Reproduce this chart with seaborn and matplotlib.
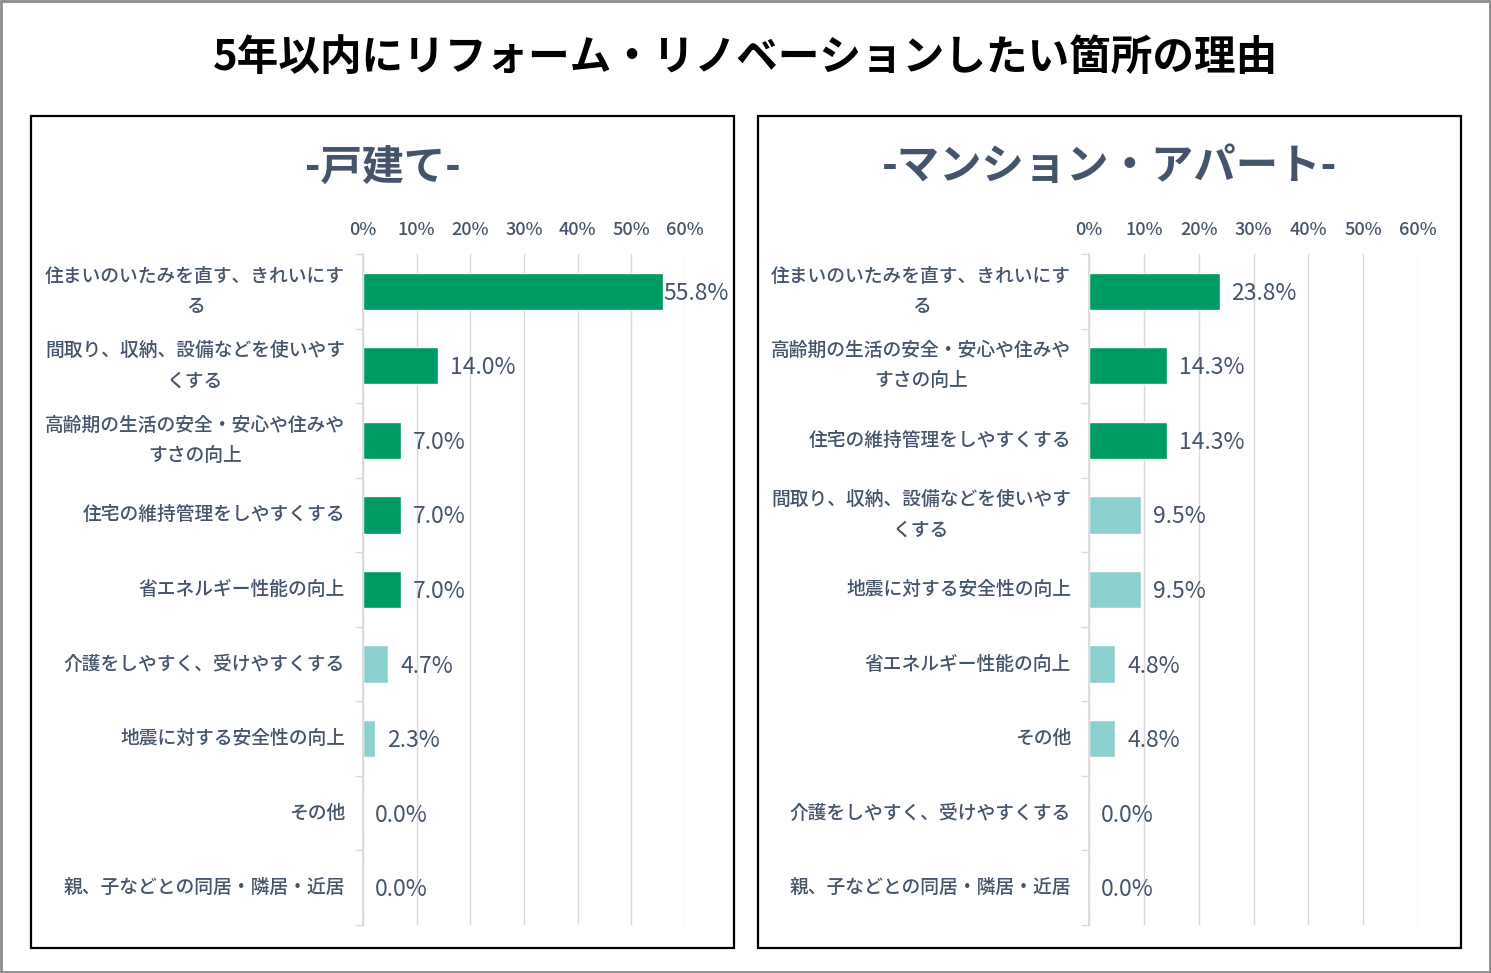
import textwrap
import pandas as pd
import matplotlib.pyplot as plt
import seaborn as sns
from matplotlib.patches import Rectangle
from matplotlib.ticker import FixedLocator


# データ

title = "5年以内にリフォーム・リノベーションしたい箇所の理由"

left_title = "-戸建て-"
left_categories = [
    "住まいのいたみを直す、きれいにする",
    "間取り、収納、設備などを使いやすくする",
    "高齢期の生活の安全・安心や住みやすさの向上",
    "住宅の維持管理をしやすくする",
    "省エネルギー性能の向上",
    "介護をしやすく、受けやすくする",
    "地震に対する安全性の向上",
    "その他",
    "親、子などとの同居・隣居・近居",
]
left_values = [55.8, 14.0, 7.0, 7.0, 7.0, 4.7, 2.3, 0.0, 0.0]

right_title = "-マンション・アパート-"
right_categories = [
    "住まいのいたみを直す、きれいにする",
    "高齢期の生活の安全・安心や住みやすさの向上",
    "住宅の維持管理をしやすくする",
    "間取り、収納、設備などを使いやすくする",
    "地震に対する安全性の向上",
    "省エネルギー性能の向上",
    "その他",
    "介護をしやすく、受けやすくする",
    "親、子などとの同居・隣居・近居",
]
right_values = [23.8, 14.3, 14.3, 9.5, 9.5, 4.8, 4.8, 0.0, 0.0]

x_ticks = [0, 10, 20, 30, 40, 50, 60]


# スタイル

sns.set_theme(style="white")
plt.rcParams["font.family"] = ["Noto Sans CJK JP", "DejaVu Sans"]

TEXT = "#44546A"
GREEN = "#009B62"
TEAL = "#8CCFCF"
GRID = "#D9D9D9"


def dibujar_panel(ax, categorias, valores):

    # 上位3位(同率含む)を濃い緑
    tercero = sorted(valores, reverse=True)[2]
    colores = {
        c: (GREEN if v >= tercero else TEAL)
        for c, v in zip(categorias, valores)
    }

    df = pd.DataFrame({"cat": categorias, "val": valores})

    sns.barplot(
        data=df,
        x="val",
        y="cat",
        hue="cat",
        palette=colores,
        legend=False,
        width=0.5,
        saturation=1,
        ax=ax
    )

    n = len(categorias)
    ax.set_xlim(0, 60)
    ax.set_ylim(n - 0.5, -0.5)

    ax.xaxis.tick_top()
    ax.set_xticks(x_ticks)
    ax.set_xticklabels([f"{t}%" for t in x_ticks], fontweight="medium")
    ax.tick_params(axis="x", length=0, pad=11, labelsize=13, labelcolor=TEXT)

    etiquetas = ["\n".join(textwrap.wrap(c, 16)) for c in categorias]
    ax.set_yticks(range(n))
    ax.set_yticklabels(etiquetas, multialignment="center", linespacing=1.75,
                       fontweight="medium")
    for t in ax.get_yticklabels():
        t.set_va("center")
    ax.tick_params(axis="y", length=0, pad=13, labelsize=13.5, labelcolor=TEXT)
    ax.yaxis.set_minor_locator(FixedLocator([i - 0.5 for i in range(n + 1)]))
    ax.tick_params(axis="y", which="minor", length=6, width=1, color=GRID, left=True)

    ax.grid(axis="x", color=GRID, linewidth=1)
    ax.grid(axis="y", visible=False)
    ax.set_axisbelow(True)

    for lado in ["top", "right", "bottom"]:
        ax.spines[lado].set_visible(False)
    ax.spines["left"].set_color(GRID)

    ax.set_xlabel("")
    ax.set_ylabel("")

    for i, v in enumerate(valores):
        pad = 1 if v > 50 else 12
        ax.annotate(
            f"{v:.1f}%",
            xy=(v, i),
            xytext=(pad, -2),
            textcoords="offset pixels",
            va="center",
            ha="left",
            fontsize=16.5,
            color=TEXT,
            annotation_clip=False
        )


fig = plt.figure(figsize=(14.91, 9.73), dpi=100)

# 外枠
fig.patches.append(Rectangle(
    (0.0007, 0.001), 0.9986, 0.998, transform=fig.transFigure,
    fill=False, edgecolor="#8C8C8C", linewidth=2
))

# パネル枠
for x0 in [0.0208, 0.5084]:
    fig.patches.append(Rectangle(
        (x0, 0.0257), 0.4715, 0.855, transform=fig.transFigure,
        fill=False, edgecolor="black", linewidth=1.6
    ))

fig.text(0.5, 0.940, title, ha="center", va="center",
         fontsize=30, fontweight="bold", color="black")

fig.text(0.2565, 0.828, left_title, ha="center", va="center",
         fontsize=30, fontweight="bold", color=TEXT)
fig.text(0.744, 0.828, right_title, ha="center", va="center",
         fontsize=30.5, fontweight="bold", color=TEXT)

ax1 = fig.add_axes([0.2435, 0.0493, 0.216, 0.6897])
ax2 = fig.add_axes([0.7304, 0.0493, 0.2207, 0.6897])

dibujar_panel(ax1, left_categories, left_values)
dibujar_panel(ax2, right_categories, right_values)

plt.savefig("out.png", dpi=100)
plt.close()
